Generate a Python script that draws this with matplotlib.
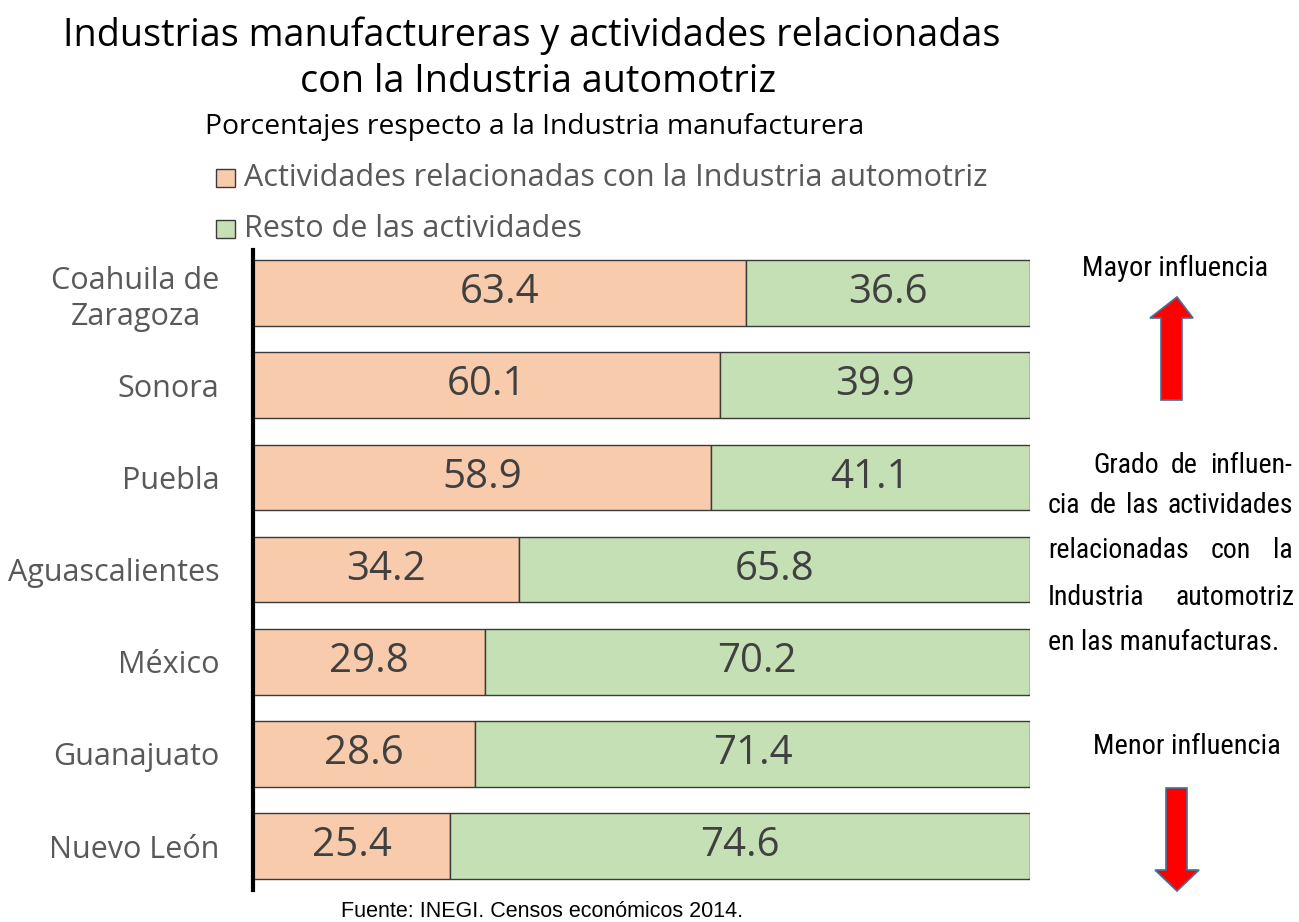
import matplotlib
matplotlib.use("Agg")
import matplotlib.pyplot as plt
from matplotlib.patches import Polygon
from matplotlib import font_manager as fm

categories = ["Coahuila de\nZaragoza", "Sonora", "Puebla", "Aguascalientes",
              "México", "Guanajuato", "Nuevo León"]
auto_vals = [63.4, 60.1, 58.9, 34.2, 29.8, 28.6, 25.4]
rest_vals = [36.6, 39.9, 41.1, 65.8, 70.2, 71.4, 74.6]
series_names = ["Actividades relacionadas con la Industria automotriz",
                "Resto de las actividades"]

C_AUTO = "#F8CBAD"
C_REST = "#C5E0B4"
GREY = "#595959"
VAL_GREY = "#404040"

# ---- find a condensed font if any
entries = fm.fontManager.ttflist
names = {f.name for f in entries}
COND_PROPS = None
for cand in ["Roboto Condensed", "Open Sans Condensed", "Liberation Sans Narrow",
             "Noto Sans Condensed", "DejaVu Sans Condensed"]:
    if cand in names:
        COND_PROPS = dict(family=cand)
        break
if COND_PROPS is None:
    for f in entries:
        if ("Condensed" in f.name or "Narrow" in f.name) and f.weight in (400, "normal", "regular") and f.style == "normal":
            COND_PROPS = dict(family=f.name)
            break
if COND_PROPS is None:
    for f in entries:
        if f.name in ("Roboto", "Open Sans", "Noto Sans", "DejaVu Sans") and str(f.stretch) in ("condensed", "semi-condensed", "75", "87.5") and f.style == "normal":
            COND_PROPS = dict(family=f.name, fontstretch=f.stretch)
            break
if COND_PROPS is None:
    COND_PROPS = dict(family="Liberation Sans")

MAIN = "Open Sans"

W, H = 1299, 922
fig = plt.figure(figsize=(W / 100, H / 100), dpi=100)

def fx(px):
    return px / W

def fy(py):
    return 1 - py / H

ax = fig.add_axes([fx(253), fy(890), fx(1030) - fx(253), fy(250) - fy(890)])
ypos = list(range(len(categories)))
ax.barh(ypos, auto_vals, height=0.71, color=C_AUTO, edgecolor="#3a3a3a", linewidth=1.0)
ax.barh(ypos, rest_vals, left=auto_vals, height=0.71, color=C_REST, edgecolor="#3a3a3a", linewidth=1.0)
for i, (a, r) in enumerate(zip(auto_vals, rest_vals)):
    ax.text(a / 2, i, f"{a:.1f}", ha="center", va="center", fontsize=29,
            color=VAL_GREY, family=MAIN)
    ax.text(a + r / 2, i, f"{r:.1f}", ha="center", va="center", fontsize=29,
            color=VAL_GREY, family=MAIN)

ax.set_xlim(0, 100)
ax.set_ylim(6.475, -0.466)
ax.set_yticks(ypos)
ax.set_yticklabels(categories, fontsize=22, color=GREY, family=MAIN,
                   multialignment="center", linespacing=1.25)
ax.tick_params(axis="y", length=0, pad=24)
ax.set_xticks([])
for s in ["top", "right", "bottom"]:
    ax.spines[s].set_visible(False)
ax.spines["left"].set_linewidth(3)
ax.spines["left"].set_color("black")
ax.set_facecolor("none")

# Titles
fig.text(fx(532), fy(36), "Industrias manufactureras y actividades relacionadas",
         ha="center", va="center", fontsize=27.2, family=MAIN, color="black")
fig.text(fx(538), fy(82), "con la Industria automotriz",
         ha="center", va="center", fontsize=27.2, family=MAIN, color="black")
fig.text(fx(205), fy(127), "Porcentajes respecto a la Industria manufacturera",
         ha="left", va="center", fontsize=20.3, family=MAIN, color="black")

# Legend
for k, (name, col) in enumerate(zip(series_names, [C_AUTO, C_REST])):
    yc = 178 + k * 51
    sq = Polygon([(fx(216), fy(yc - 9)), (fx(235), fy(yc - 9)),
                  (fx(235), fy(yc + 9)), (fx(216), fy(yc + 9))],
                 closed=True, facecolor=col, edgecolor="#3a3a3a", linewidth=1.0,
                 transform=fig.transFigure)
    fig.add_artist(sq)
    fig.text(fx(244), fy(yc), name, ha="left", va="center", fontsize=22,
             family=MAIN, color=GREY)

fig.canvas.draw()
renderer = fig.canvas.get_renderer()

def text_w(s, size):
    t = fig.text(0, 0, s, fontsize=size, **COND_PROPS)
    w = t.get_window_extent(renderer).width
    t.remove()
    return w

size = 22.0
w = text_w("Mayor influencia", size)
size = size * 186.0 / w
lines = [("Grado de influen-", 1093, 1292, True, 465),
         ("cia de las actividades", 1048, 1293, True, 505),
         ("relacionadas con la", 1048, 1293, True, 550),
         ("Industria automotriz", 1048, 1295, True, 597),
         ("en las manufacturas.", 1048, 1283, False, 642)]
psize = size * 1.05
for txt, x0, x1, just, yc in lines:
    wl = text_w(txt, psize)
    if wl > (x1 - x0):
        psize = psize * (x1 - x0) / wl * 0.99

fig.text(fx(1175), fy(268), "Mayor influencia", ha="center", va="center",
         fontsize=size, color="black", **COND_PROPS)
fig.text(fx(1187), fy(746), "Menor influencia", ha="center", va="center",
         fontsize=size, color="black", **COND_PROPS)

def arrow(points):
    poly = Polygon([(fx(x), fy(y)) for x, y in points], closed=True,
                   facecolor="#FF0000", edgecolor="#41719C", linewidth=1.2,
                   transform=fig.transFigure)
    fig.add_artist(poly)

arrow([(1177, 297), (1193, 318), (1182, 318), (1182, 400), (1161, 400),
       (1161, 318), (1150, 318)])
arrow([(1166, 788), (1187, 788), (1187, 870), (1199, 870), (1177, 891),
       (1155, 870), (1166, 870)])

for txt, x0, x1, just, yc in lines:
    if not just:
        fig.text(fx(x0), fy(yc), txt, ha="left", va="center", fontsize=psize,
                 color="black", **COND_PROPS)
        continue
    words = txt.split()
    widths = [text_w(wd, psize) for wd in words]
    gap = (x1 - x0 - sum(widths)) / max(len(words) - 1, 1)
    x = x0
    for wd, wdt in zip(words, widths):
        fig.text(fx(x), fy(yc), wd, ha="left", va="center", fontsize=psize,
                 color="black", **COND_PROPS)
        x += wdt + gap

fig.text(fx(341), fy(911), "Fuente: INEGI. Censos económicos 2014.",
         ha="left", va="center", fontsize=15.5, family="Liberation Sans", color="black")

fig.savefig("out.png", dpi=100)
